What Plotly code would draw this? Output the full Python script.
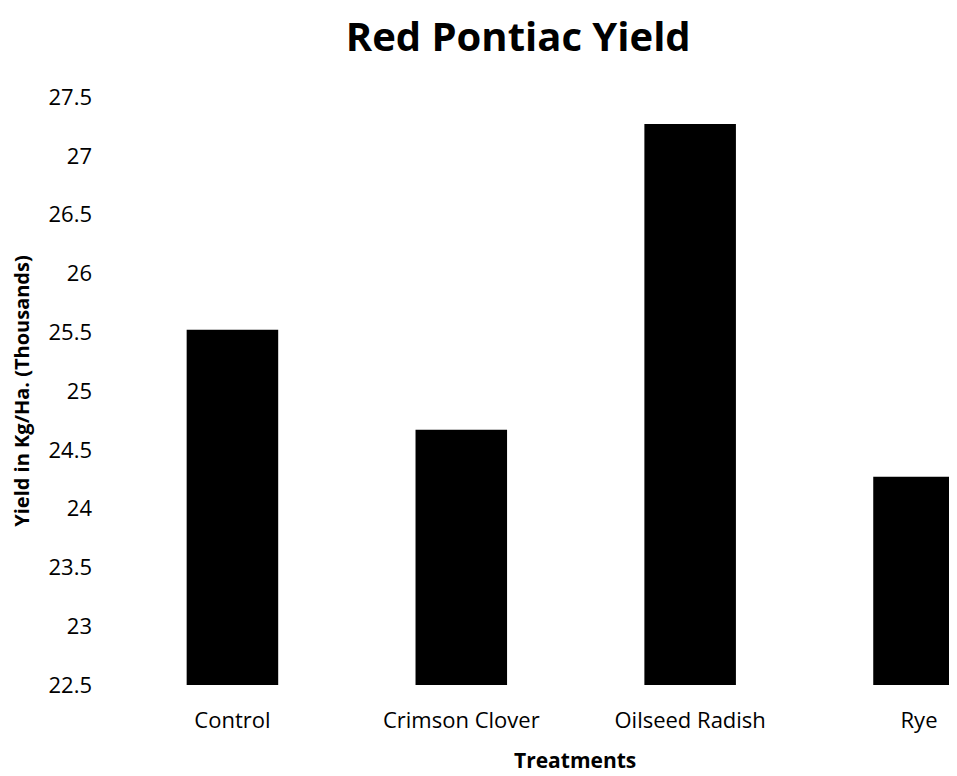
import plotly.graph_objects as go

categories = ["Control", "Crimson Clover", "Oilseed Radish", "Rye"]
yields = [25.52, 24.67, 27.27, 24.27]
tick_vals = [22.5, 23, 23.5, 24, 24.5, 25, 25.5, 26, 26.5, 27, 27.5]
tick_text = ["22.5", "23", "23.5", "24", "24.5", "25", "25.5", "26", "26.5", "27", "27.5"]

font = "Open Sans"

fig = go.Figure(go.Bar(
    x=list(range(len(categories))),
    y=yields,
    width=0.4,
    marker=dict(color="black", line=dict(width=0)),
))

fig.update_layout(
    width=949, height=768,
    margin=dict(l=109.5, r=0, t=89, b=91),
    paper_bgcolor="white", plot_bgcolor="white",
    showlegend=False,
    title=dict(text="<b>Red Pontiac Yield</b>", x=0.477, xref="paper", xanchor="center",
               y=1 - 29 / 768, yanchor="middle", font=dict(family=font, size=40, color="black")),
    font=dict(family=font, color="black"),
    annotations=[dict(text="<b>Treatments</b>", xref="paper", yref="paper",
                      x=0.545, y=-0.1276, xanchor="center", yanchor="middle",
                      showarrow=False, font=dict(family=font, size=21, color="black"))],
)
fig.update_xaxes(
    range=[-0.5, 3.166], tickvals=list(range(len(categories))), ticktext=categories,
    showgrid=False, zeroline=False, showline=False, ticks="",
    tickfont=dict(size=22), ticklabelstandoff=20, automargin=False,
)
fig.update_yaxes(
    range=[22.5, 27.5], tickvals=tick_vals, ticktext=tick_text,
    showgrid=False, zeroline=False, showline=False, ticks="",
    tickfont=dict(size=22), ticklabelstandoff=25, automargin=False,
    title=dict(text="<b>Yield in Kg/Ha. (Thousands)</b>", font=dict(size=20), standoff=16),
)

fig.write_html("out.html")
